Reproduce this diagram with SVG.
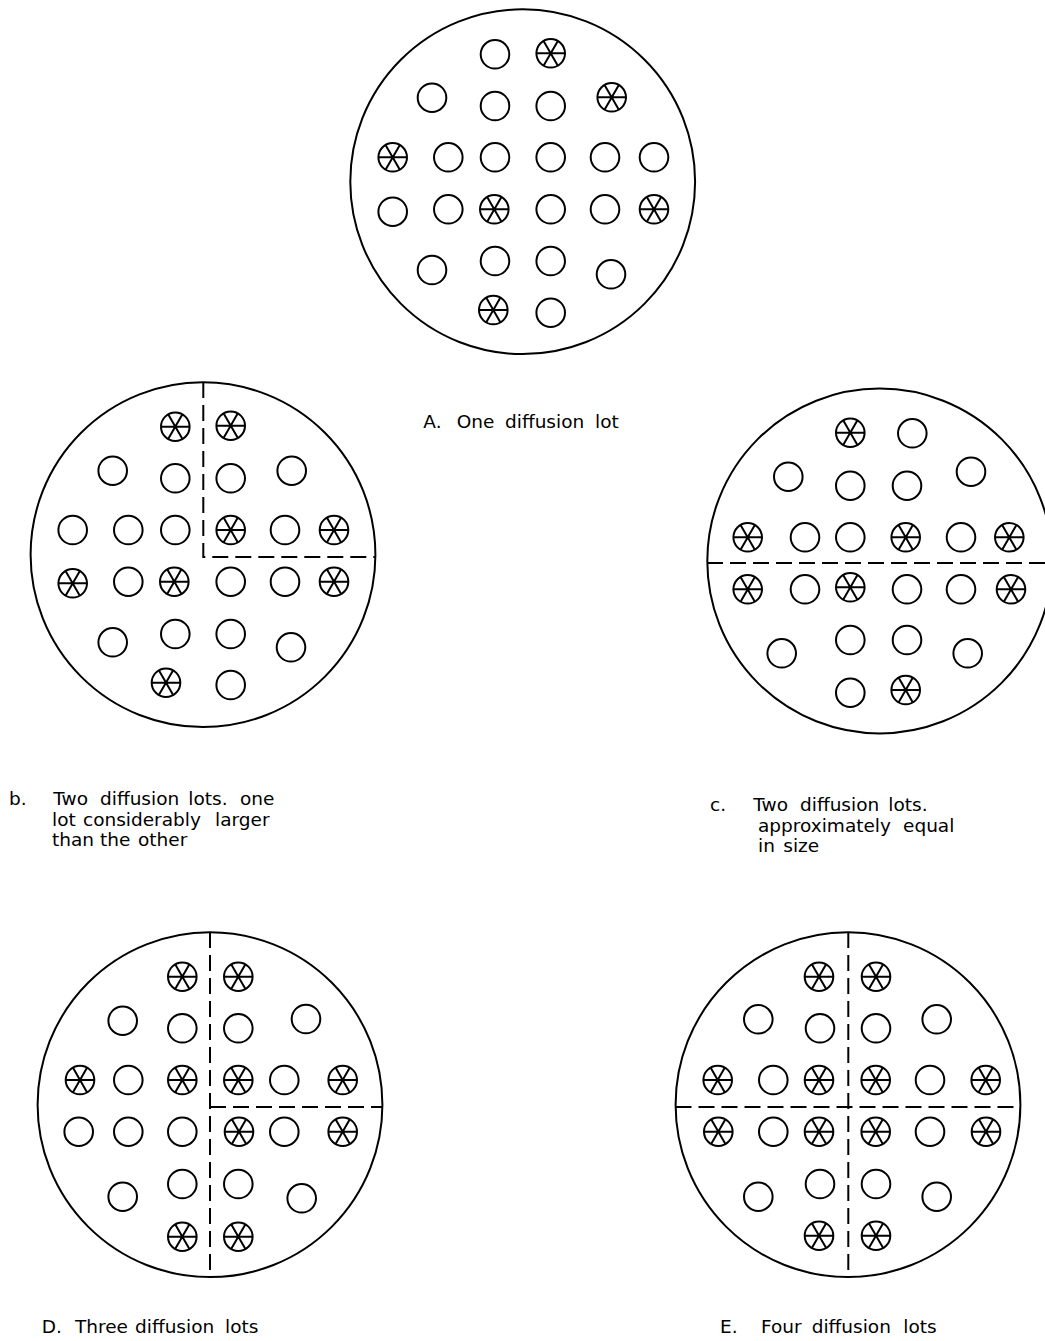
<svg xmlns="http://www.w3.org/2000/svg" xmlns:xlink="http://www.w3.org/1999/xlink" width="1045" height="1341" viewBox="0 0 1045 1341">
<style>
.wafer{fill:none;stroke:#000;stroke-width:2}
.dash{fill:none;stroke:#000;stroke-width:2;stroke-dasharray:16 7}
.die{fill:none;stroke:#000;stroke-width:2}
.lbl{font-family:"DejaVu Sans","Liberation Sans",sans-serif;font-size:18.5px;fill:#000}
</style>
<defs>
<g id="o"><circle class="die" cx="0" cy="0" r="14.3"/></g>
<g id="x"><circle class="die" cx="0" cy="0" r="14.3"/><path d="M-14.3 0H14.3M-7.15 -12.38L7.15 12.38M7.15 -12.38L-7.15 12.38" stroke="#000" stroke-width="2" fill="none"/></g>
</defs>
<rect width="1045" height="1341" fill="#fff"/>

<g id="waferA">
<circle class="wafer" cx="522.7" cy="181.7" r="172.4"/>
<use href="#o" x="495" y="54.3"/><use href="#x" x="550.7" y="53.3"/>
<use href="#o" x="432" y="97.7"/><use href="#o" x="495" y="106"/><use href="#o" x="550.7" y="106"/><use href="#x" x="611.7" y="97.3"/>
<use href="#x" x="392.7" y="157.3"/><use href="#o" x="448.3" y="157.3"/><use href="#o" x="495" y="157.3"/><use href="#o" x="550.7" y="157.3"/><use href="#o" x="605" y="157.3"/><use href="#o" x="654" y="157.3"/>
<use href="#o" x="392.7" y="211.7"/><use href="#o" x="448.3" y="209.3"/><use href="#x" x="494.3" y="209.3"/><use href="#o" x="550.7" y="209.3"/><use href="#o" x="605" y="209.3"/><use href="#x" x="654" y="209.3"/>
<use href="#o" x="432" y="270"/><use href="#o" x="495" y="261"/><use href="#o" x="550.7" y="261"/><use href="#o" x="611" y="274.3"/>
<use href="#x" x="493.3" y="310"/><use href="#o" x="550.7" y="312.7"/>
</g>

<g id="waferB">
<circle class="wafer" cx="203" cy="554.7" r="172.4"/>
<use href="#x" x="175.3" y="426.7"/><use href="#x" x="230.7" y="425.7"/>
<use href="#o" x="112.7" y="470.7"/><use href="#o" x="175.3" y="478.3"/><use href="#o" x="230.7" y="478.3"/><use href="#o" x="291.7" y="470.7"/>
<use href="#o" x="72.7" y="530"/><use href="#o" x="128.3" y="530"/><use href="#o" x="175.3" y="530"/><use href="#x" x="230.7" y="530"/><use href="#o" x="285" y="530"/><use href="#x" x="334" y="530"/>
<use href="#x" x="72.7" y="583.3"/><use href="#o" x="128.3" y="581.7"/><use href="#x" x="174.3" y="581.7"/><use href="#o" x="230.7" y="581.7"/><use href="#o" x="285" y="581.7"/><use href="#x" x="334" y="581.7"/>
<use href="#o" x="112.7" y="642.3"/><use href="#o" x="175.3" y="634"/><use href="#o" x="230.7" y="634"/><use href="#o" x="291" y="647.3"/>
<use href="#x" x="166" y="682.7"/><use href="#o" x="230.7" y="685"/>
</g>

<g id="waferC">
<circle class="wafer" cx="879.7" cy="561" r="172.4"/>
<use href="#x" x="850.3" y="432.7"/><use href="#o" x="912.3" y="433.3"/>
<use href="#o" x="788.3" y="476.7"/><use href="#o" x="850.3" y="485.7"/><use href="#o" x="907" y="485.7"/><use href="#o" x="971" y="471.7"/>
<use href="#x" x="747.7" y="537.3"/><use href="#o" x="805" y="537.3"/><use href="#o" x="850.3" y="537.3"/><use href="#x" x="905.7" y="537.3"/><use href="#o" x="961" y="537.3"/><use href="#x" x="1009.3" y="537.3"/>
<use href="#x" x="747.7" y="589.3"/><use href="#o" x="805" y="589.3"/><use href="#x" x="850.3" y="587.3"/><use href="#o" x="907" y="589.3"/><use href="#o" x="961" y="589.3"/><use href="#x" x="1011" y="589.3"/>
<use href="#o" x="781.7" y="653.3"/><use href="#o" x="850.3" y="640"/><use href="#o" x="907" y="640"/><use href="#o" x="967.7" y="653.3"/>
<use href="#o" x="850.3" y="692.7"/><use href="#x" x="905.7" y="690"/>
</g>

<g id="waferD">
<circle class="wafer" cx="210" cy="1104.7" r="172.4"/>
<use href="#x" x="182.3" y="976.7"/><use href="#x" x="238.3" y="976.7"/>
<use href="#o" x="122.7" y="1020.7"/><use href="#o" x="182.3" y="1028.3"/><use href="#o" x="238.3" y="1028.3"/><use href="#o" x="306" y="1019"/>
<use href="#x" x="80" y="1080"/><use href="#o" x="128.3" y="1080"/><use href="#x" x="182.3" y="1080"/><use href="#x" x="238.3" y="1080"/><use href="#o" x="284.3" y="1080"/><use href="#x" x="342.7" y="1080"/>
<use href="#o" x="78.7" y="1131.7"/><use href="#o" x="128.3" y="1131.7"/><use href="#o" x="182.3" y="1131.7"/><use href="#x" x="239" y="1131.7"/><use href="#o" x="284.3" y="1131.7"/><use href="#x" x="342.7" y="1131.7"/>
<use href="#o" x="122.7" y="1196.7"/><use href="#o" x="182.3" y="1184"/><use href="#o" x="238.3" y="1184"/><use href="#o" x="301.7" y="1198.3"/>
<use href="#x" x="182.3" y="1236.7"/><use href="#x" x="238.3" y="1236.7"/>
</g>

<g id="waferE">
<circle class="wafer" cx="848" cy="1104.7" r="172.4"/>
<use href="#x" x="819" y="976.7"/><use href="#x" x="876" y="976.7"/>
<use href="#o" x="758.3" y="1019.3"/><use href="#o" x="820" y="1028.3"/><use href="#o" x="876" y="1028.3"/><use href="#o" x="936.7" y="1019.3"/>
<use href="#x" x="717.7" y="1080"/><use href="#o" x="773.3" y="1080"/><use href="#x" x="819" y="1080"/><use href="#x" x="875.7" y="1080"/><use href="#o" x="930" y="1080"/><use href="#x" x="985.7" y="1080"/>
<use href="#x" x="718.3" y="1131.7"/><use href="#o" x="773.3" y="1131.7"/><use href="#x" x="819" y="1131.7"/><use href="#x" x="875.7" y="1131.7"/><use href="#o" x="930" y="1131.7"/><use href="#x" x="986" y="1131.7"/>
<use href="#o" x="758.3" y="1196.7"/><use href="#o" x="820" y="1184"/><use href="#o" x="876" y="1184"/><use href="#o" x="936.7" y="1196.7"/>
<use href="#x" x="819" y="1235.7"/><use href="#x" x="876" y="1235.7"/>
</g>

<g id="connectors">
<path class="dash" d="M203.3 382V557H376"/>
<path class="dash" d="M707 563H1052"/>
<path class="dash" d="M210 932V1278M210 1107H382.7"/>
<path class="dash" d="M848.3 932V1278M675.5 1107H1020.5"/>
</g>

<g id="labels">
<text class="lbl" y="428.3"><tspan x="423.3">A.</tspan><tspan x="456.7">One</tspan><tspan x="505">diffusion</tspan><tspan x="595">lot</tspan></text>
<text class="lbl" y="805"><tspan x="9">b.</tspan><tspan x="53.3">Two</tspan><tspan x="100">diffusion</tspan><tspan x="188.3">lots.</tspan><tspan x="240">one</tspan></text>
<text class="lbl" y="825.5"><tspan x="52">lot</tspan><tspan x="83">considerably</tspan><tspan x="215">larger</tspan></text>
<text class="lbl" y="846"><tspan x="52">than</tspan><tspan x="100">the</tspan><tspan x="138">other</tspan></text>
<text class="lbl" y="811"><tspan x="710">c.</tspan><tspan x="753.3">Two</tspan><tspan x="800">diffusion</tspan><tspan x="888.3">lots.</tspan></text>
<text class="lbl" y="831.5"><tspan x="758">approximately</tspan><tspan x="903">equal</tspan></text>
<text class="lbl" y="852"><tspan x="758">in</tspan><tspan x="783.3">size</tspan></text>
<text class="lbl" y="1333.3"><tspan x="41.7">D.</tspan><tspan x="75">Three</tspan><tspan x="135">diffusion</tspan><tspan x="225">lots</tspan></text>
<text class="lbl" y="1333.3"><tspan x="720">E.</tspan><tspan x="761">Four</tspan><tspan x="811.7">diffusion</tspan><tspan x="903.3">lots</tspan></text>
</g>
</svg>
